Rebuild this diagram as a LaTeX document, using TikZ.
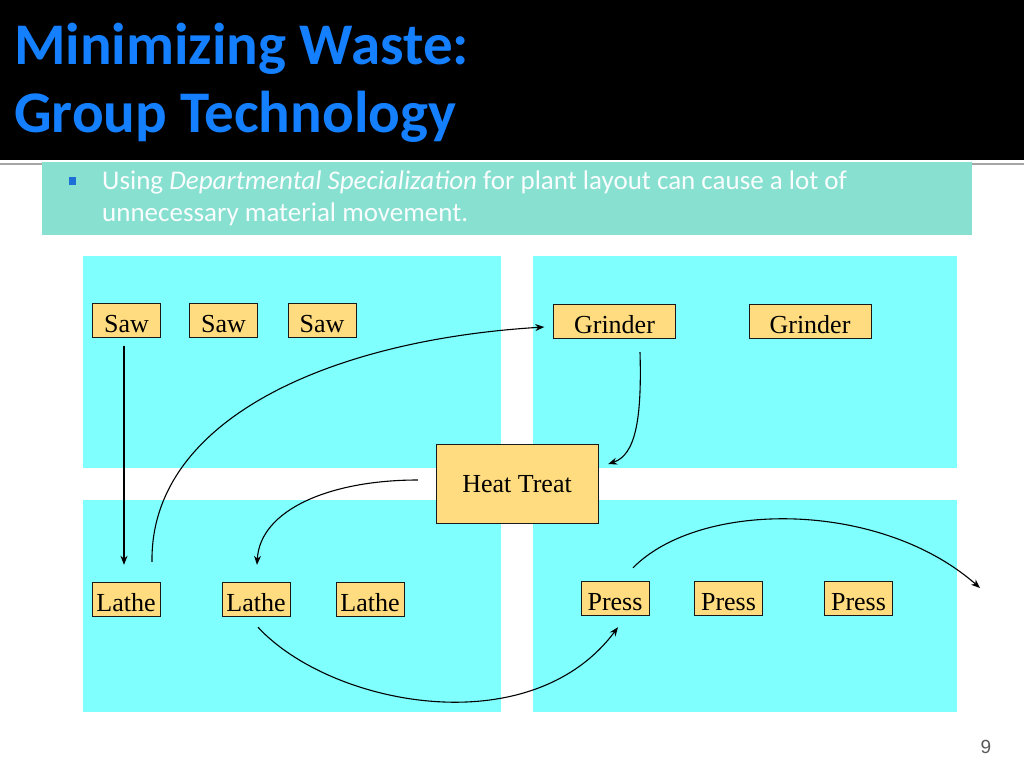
\documentclass[tikz,border=0pt]{standalone}
\usepackage{fontspec}
\setmainfont{Carlito}
\newfontfamily\timesfont{Liberation Serif}
\newfontfamily\arialfont{Liberation Sans}
\usetikzlibrary{arrows.meta}

\definecolor{titleblue}{RGB}{20,128,255}
\definecolor{banner}{RGB}{136,224,208}
\definecolor{bulletblue}{RGB}{30,110,215}
\definecolor{deptcyan}{RGB}{128,255,255}
\definecolor{machinefill}{RGB}{255,220,128}
\definecolor{rulegray}{RGB}{165,165,165}

\begin{document}
\begin{tikzpicture}[x=1pt,y=-1pt]
    % Define styles
    \tikzset{
        dept/.style={fill=deptcyan},
        machine/.style={draw=black!90, fill=machinefill, inner sep=0pt, minimum height=34pt,
            minimum width=68pt, text height=24pt, text depth=0pt,
            font=\timesfont\fontsize{26}{26}\selectfont},
        flow/.style={line width=1.1pt, -{Stealth[length=9pt,width=7pt]}},
        title/.style={anchor=base west, text=titleblue, inner sep=0pt,
            font=\bfseries\fontsize{59}{68}\selectfont},
        bullet/.style={anchor=base west, text=white!95!banner, inner sep=0pt,
            font=\fontsize{27}{33}\selectfont}
    }
    \useasboundingbox (0,0) rectangle (1024,768);

    % Draw title bar
    \fill[black] (0,0) rectangle (1024,160);
    \draw[rulegray, line width=2pt] (0,164) -- (1024,164);
    \node[title] (title1) at (14,64) {Minimizing Waste:};
    \node[title] (title2) at (14,132) {Group Technology};

    % Draw bullet banner
    \fill[banner] (42,162) rectangle (972,235);
    \fill[bulletblue] (69,177) rectangle (76,185);
    \node[bullet] (line1) at (102,189) {Using \textit{Departmental Specialization} for plant layout can cause a lot of};
    \node[bullet] (line2) at (102,221) {unnecessary material movement.};

    % Draw departments
    \foreach \x/\y/\w in {83/256/418, 533/256/424, 83/500/418, 533/500/424} {
        \fill[dept] (\x,\y) rectangle +(\w,212);
    }

    % Draw machines
    \foreach \n/\x in {1/126.5, 2/223.5, 3/322} {
        \node[machine] (saw\n) at (\x,320.5) {Saw};
    }
    \node[machine, minimum width=122pt] (grinder1) at (614.5,321) {Grinder};
    \node[machine, minimum width=122pt] (grinder2) at (810,321) {Grinder};
    \foreach \n/\x in {1/126, 2/256, 3/370} {
        \node[machine] (lathe\n) at (\x,599) {Lathe};
    }
    \foreach \n/\x in {1/615, 2/728.5, 3/858.5} {
        \node[machine] (press\n) at (\x,598) {Press};
    }
    \node[machine, minimum width=162pt, minimum height=79pt, text height=17pt] (heat) at (517,483.5) {Heat Treat};
    \coordinate (exit) at (980,588);

    % Draw material movement
    \draw[flow] ([xshift=-2.5pt,yshift=-8pt]saw1.south) -- ([xshift=-2pt,yshift=17pt]lathe1.north);
    \draw[flow] ([xshift=26pt,yshift=20pt]lathe1.north) .. controls +(-2,-142) and +(-215,13) .. ([xshift=-9pt,yshift=-6pt]grinder1.west);
    \draw[flow] ([xshift=25.5pt,yshift=-14pt]grinder1.south) .. controls +(2,68) and +(27,-9) .. ([xshift=10pt,yshift=19.5pt]heat.east);
    \draw[flow] ([xshift=-18pt,yshift=3.5pt]heat.west) .. controls +(-88,0) and +(3,-55) .. ([xshift=1pt,yshift=17pt]lathe2.north);
    \draw[flow] ([xshift=2pt,yshift=-11pt]lathe2.south) .. controls +(72,78) and +(-88,118) .. ([xshift=3pt,yshift=-12pt]press1.south);
    \draw[flow] ([xshift=18pt,yshift=13pt]press1.north) .. controls +(67,-68) and +(-100,-88) .. (exit);

    % Add page number
    \node[anchor=base, text=black!65, font=\arialfont\fontsize{19}{19}\selectfont] (page) at (986,753) {9};
\end{tikzpicture}
\end{document}
